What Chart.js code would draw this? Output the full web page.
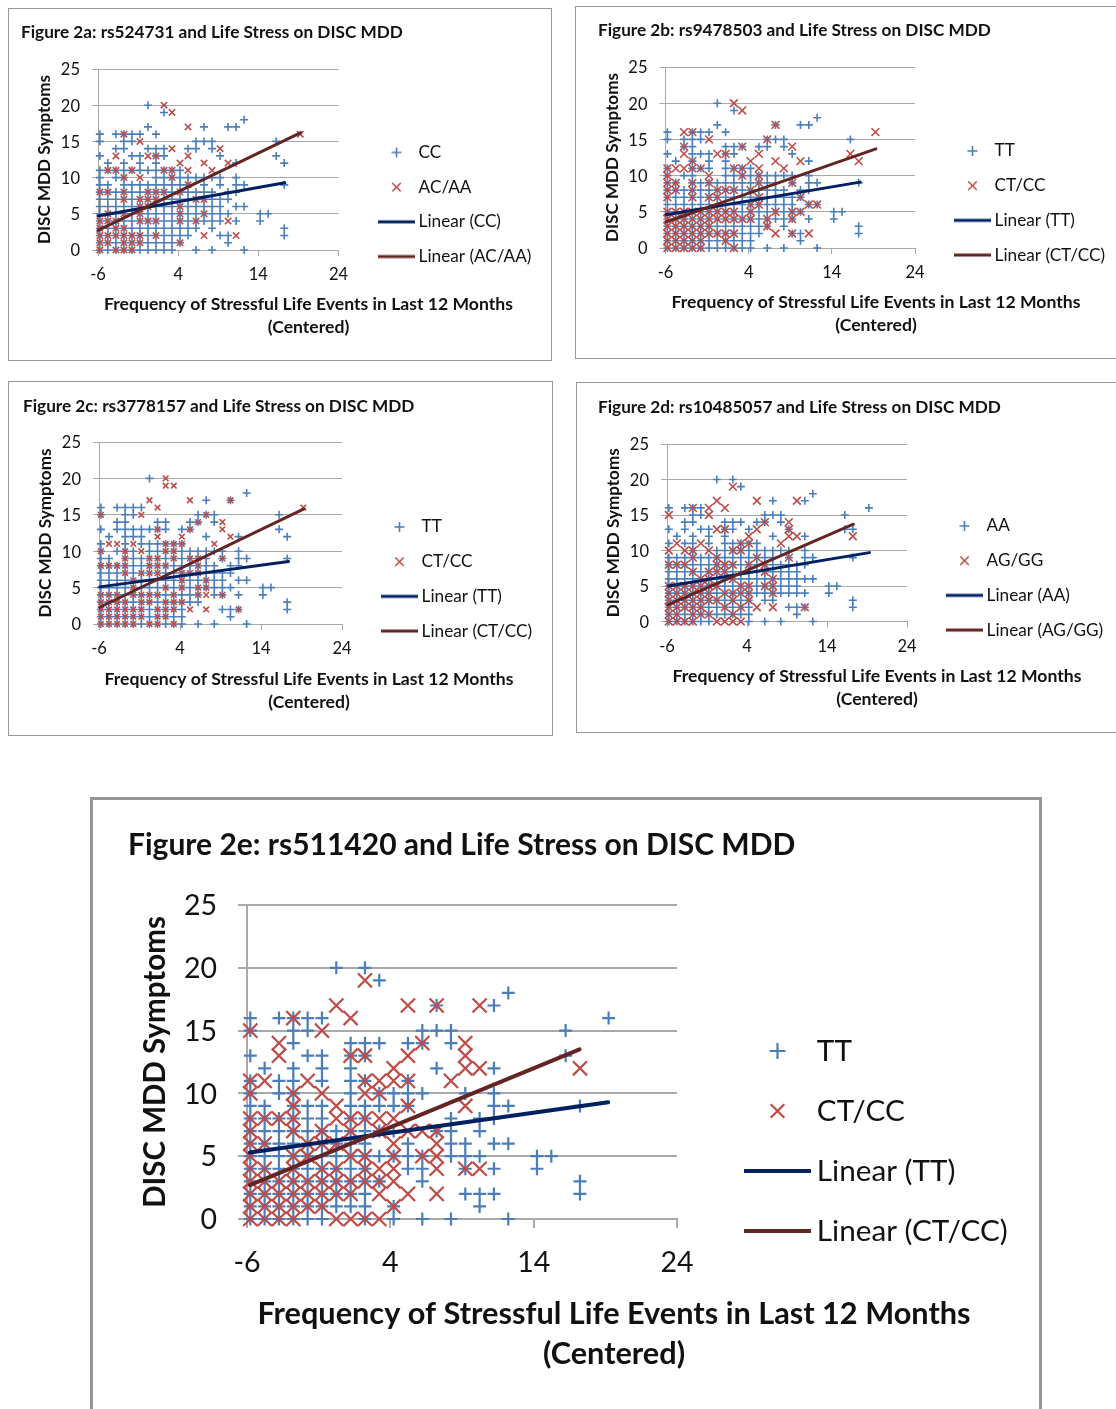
<!DOCTYPE html>
<html><head><meta charset="utf-8">
<script src="https://cdn.jsdelivr.net/npm/chart.js@4"></script>
<style>
html,body{margin:0;padding:0;background:#fff;overflow:hidden;width:1116px;height:1409px}
#page{position:relative;width:1116px;height:1409px;overflow:hidden}
.frame{position:absolute;box-sizing:border-box;border-style:solid;border-color:#969696;background:#fff}
canvas{position:absolute}
</style></head><body><div id="page"></div>
<script>
// x position of each column of the count data (centered event frequency)
const xColumns = [-5.77,-4.77,-3.77,-2.77,-1.77,-0.77,0.23,1.23,2.23,3.23,4.23,5.23,6.23,7.23,8.23,9.23,10.23,11.23,12.23,13.23,14.23,15.23,16.23,17.23,18.23,19.23];
const xTickValues = [-6,4,14,24];
const yTickValues = [0,5,10,15,20,25];
const xAxisTitle = ["Frequency of Stressful Life Events in Last 12 Months","(Centered)"];
const yAxisTitle = "DISC MDD Symptoms";

// Each series: one list of y values per entry of xColumns
const a_CC = [[16,15,13,11,10,9,8,7,6,5,4,3,2,1,0],[12,11,9,8,7,6,5,4,3,2,1,0],[16,14,11,10,8,7,6,5,4,3,2,1,0],[16,15,14,12,11,10,9,8,7,6,5,4,3,2,1,0],[16,15,13,11,9,8,7,6,5,4,3,2,1,0],[16,13,12,11,9,8,7,6,5,4,3,2,1,0],[20,17,14,11,9,8,7,6,5,4,3,2,1,0],[16,14,13,12,11,10,9,8,7,6,5,4,3,2,1,0],[19,14,13,11,10,9,8,7,6,5,4,3,2,1,0],[11,10,9,8,7,6,5,4,3,2,1,0],[11,10,9,8,7,6,5,4,3,2,1],[14,10,9,8,7,6,5,4,3,2],[15,14,10,8,7,6,5,4,3,0],[17,15,10,9,8,7,6,5,4],[15,14,10,8,7,6,5,4,3,0],[13,10,9,7,6,5,4,2],[17,8,7,5,2,1],[17,12,10,9,8,6,4],[18,9,6,0],[],[5,4],[5],[15,13],[12,9,3,2],[],[]];
const a_ACAA = [[8,4,3,2,1,0],[11,8,5,4,2,1],[13,11,4,3,2,0],[16,10,8,7,5,3,2,1,0],[11,2,1,0],[15,10,7,6,5,4,2,1],[13,8,7,6,4],[13,8,7,4,2],[20,11,8],[19,14,11,10],[12,8,6,5,4,1],[17,13,11,9],[7,4],[12,7,5,2],[11],[14],[12,4],[2],[],[],[],[],[],[],[],[16]];
const a_lineCC = [[-6,4.7],[17.3,9.3]];
const a_lineACAA = [[-6,2.7],[19.3,16.2]];

const b_TT = [[16,15,13,11,10,9,8,7,6,5,4,3,2,1,0],[12,9,8,7,6,5,4,3,2,1,0],[15,14,10,8,7,6,5,4,3,2,1,0],[16,15,14,13,12,11,10,9,8,7,6,5,4,3,2,1,0],[16,15,13,11,9,8,7,6,5,4,3,2,1,0],[16,13,12,11,9,8,7,6,5,4,3,2,1,0],[20,17,9,8,7,6,5,4,3,2,1,0],[16,14,13,12,11,10,9,8,7,6,5,4,3,2,1,0],[19,14,13,11,10,9,8,7,6,5,4,3,2,1,0],[14,11,10,9,8,7,6,5,4,3,2,1,0],[11,10,9,8,7,6,5,4,3,2,1,0],[14,10,9,8,7,6,5,4,3,2],[15,14,10,9,8,7,6,5,4,3,0],[17,15,10,9,8,7,6,5,4],[15,14,10,8,7,6,5,4,3,0],[13,10,9,7,6,5,4,2],[17,8,7,5,2,1],[17,12,10,9,8,6,4],[18,9,6,0],[],[5,4],[5],[15],[9,3,2],[],[]];
const b_CTCC = [[11,10,9,8,7,5,4,3,2,1,0],[11,9,8,5,4,3,2,1,0],[16,14,13,11,5,4,3,2,1,0],[16,12,11,9,8,7,5,4,3,2,1,0],[11,5,4,3,2,1,0],[15,10,9,7,5,4,3,2],[13,8,7,5,4,2],[13,8,5,4,2,1],[20,11,8,5,4,2,0],[19,14,11,10,4],[12,8,6,5,4],[13,11,10,9,7,6],[15,4,3],[17,12,5,2],[11],[14,9,5,4,2],[12,7,5],[6,2],[6],[],[],[],[13],[12],[],[16]];
const b_lineTT = [[-5.9,4.6],[17.4,9.1]];
const b_lineCTCC = [[-5.9,3.6],[19.3,13.7]];

const c_TT = [[16,15,13,11,10,9,8,7,6,5,4,3,2,1,0],[12,9,8,7,6,5,4,3,2,1,0],[16,14,13,10,8,7,6,5,4,3,2,1,0],[16,15,14,13,12,11,10,9,8,7,6,5,4,3,2,1,0],[16,15,13,12,10,9,8,7,6,5,4,3,2,1,0],[16,13,12,11,9,8,7,6,5,4,3,2,1,0],[20,13,11,10,9,8,7,6,5,4,3,2,1,0],[14,13,11,10,9,8,7,6,5,4,3,2,1,0],[14,13,11,10,9,8,7,6,5,4,3,2,1,0],[11,10,9,8,7,6,5,4,3,2,1,0],[13,11,10,9,8,7,6,5,4,3,2,1,0],[14,13,10,9,8,7,6,5,4,3],[15,14,10,9,8,7,6,5,4,3,0],[17,15,12,10,9,8,7,6,5],[15,14,10,8,7,6,5,4,0],[10,9,7,6,5,4,2],[17,8,7,5,2,1],[12,10,9,8,6,4,2],[18,9,6,0],[],[5,4],[5],[15,13],[12,9,3,2],[],[]];
const c_CTCC = [[15,10,8,4,3,2,1,0],[11,8,4,3,2,1,0],[11,8,4,3,2,1,0],[10,9,8,7,3,2,1,0],[11,6,5,4,2,1,0],[15,10,7,4,3,2,1],[17,9,8,7,4,3,0],[16,13,12,9,8,7,4,2,1,0],[20,19,11,10,8,5,3,2,1],[19,11,10,9,4,3,2,0],[12,11,7,6,5,3],[17,13,9,7,2],[14,9,8,7,5,4],[15,6,5,4,2],[11],[14,13,9,4],[17,12],[2],[],[],[],[],[],[],[],[16]];
const c_lineTT = [[-5.9,5.1],[17.4,8.6]];
const c_lineCTCC = [[-5.9,2.3],[19.3,15.8]];

const d_AA = [[16,13,11,9,8,7,6,5,4,3,2,1,0],[12,9,8,7,6,5,4,3,2,1,0],[16,14,13,11,9,8,7,6,5,4,3,2,1,0],[16,15,14,12,11,10,9,8,7,6,5,4,3,2,1,0],[16,15,13,9,8,7,6,5,4,3,2,1,0],[13,12,11,9,8,7,6,5,4,3,2,1,0],[20,10,9,8,7,6,5,4,3,2,1],[14,13,12,11,10,9,8,7,6,5,4,3,2,1],[20,14,13,11,10,9,8,7,6,5,4,3,2,1],[19,14,11,10,9,8,7,6,5,4,3,2,1],[13,11,10,9,8,7,6,5,4,3,2,1,0],[14,11,10,9,8,7,6,5,4],[15,14,10,9,8,7,6,5,4,3,0],[17,15,12,10,9,8,7,6,5,4,3],[15,14,10,8,7,6,5,4,0],[13,10,9,8,7,6,5,4,2],[8,7,6,5,4,2,1],[17,12,10,9,8,6,4,2],[18,9,6,0],[],[5,4],[5],[15,13],[13,9,3,2],[],[16]];
const d_AGGG = [[15,10,8,5,4,3,2,1,0],[11,8,5,4,3,2,1,0],[10,8,5,4,3,2,0],[16,10,9,7,5,4,3,2,1,0],[11,6,5,4,3,2,1],[16,15,10,7,6,5,4,3,1],[17,13,9,8,7,5,3,0],[16,13,8,7,4,2,0],[19,10,8,6,4,3,1,0],[11,10,5,4,2,0],[12,11,8,5,4,3],[17,13,9,2],[14,8,7,5],[6,5,4,2],[11],[14,13,12,9],[17,12],[2],[],[],[],[],[],[12],[],[]];
const d_lineAA = [[-5.8,5],[19.3,9.7]];
const d_lineAGGG = [[-5.9,2.35],[17.3,13.7]];

const e_TT = [[16,15,13,11,10,9,8,7,6,5,4,3,2,1,0],[12,9,8,7,6,5,4,3,2,1,0],[16,11,10,8,7,6,5,4,3,2,1,0],[16,15,14,12,11,10,9,8,7,6,5,4,3,2,1,0],[16,15,13,9,8,7,6,5,4,3,2,1,0],[16,13,12,11,9,8,7,6,5,4,3,2,1,0],[20,7,6,5,4,3,2,1],[14,13,12,11,10,9,8,7,6,5,4,3,2,1],[20,14,13,11,9,8,7,6,5,4,3,2,1,0],[19,14,10,9,7,5,3],[10,9,7,5,1,0],[14,11,10,9,6,5,4],[15,14,10,5,4,3,0],[17,15,12,7],[15,14,8,7,6,5,0],[10,6,5,4,2],[8,7,5,2,1],[17,12,10,9,8,6,4,2],[18,9,6,0],[],[5,4],[5],[15,13],[9,3,2],[],[16]];
const e_CTCC = [[15,11,10,8,7,6,5,4,3,2,1,0],[11,8,6,4,3,2,1,0],[14,13,8,3,2,1,0],[16,10,9,8,7,5,4,3,2,1,0],[11,6,5,3,2,1],[15,10,7,6,4,3,2,1],[17,9,8,6,4,3,2,0],[16,13,8,7,5,3,2,0],[19,13,11,10,8,5,4,3,0],[11,10,8,7,4,3,2,0],[12,11,8,6,5,4,3,1],[17,13,11,9,7,2],[14,7,5],[17,7,6,5,4,2],[11],[14,13,12,9,4],[17,12,4],[],[],[],[],[],[],[12],[],[]];
const e_lineTT = [[-5.8,5.3],[19.2,9.3]];
const e_lineCTCC = [[-5.8,2.7],[17.2,13.5]];

const SMALL = {title:17.2, xTitle:17.6, yTitle:17.1, tick:16.5, legend:17.2, xLine:23, legendGap:17.5, boxW:32, lineW:37, legendArm:5, blueR:4, gridW:1, tickLen:6, yPad:12, xPad:9, labelY:1, pointW:1.6, trendW:3, frameW:1.5};
const LARGE = {title:30, xTitle:30.7, yTitle:29.5, tick:28.5, legend:29.7, xLine:40, legendGap:30.3, boxW:58, lineW:67, legendArm:8, blueR:6.5, gridW:2, tickLen:9, yPad:21, xPad:18, labelY:1, pointW:2.2, trendW:4, frameW:3};

const panels = [
 {title:"Figure 2a: rs524731 and Life Stress on DISC MDD", names:["CC","AC/AA","Linear (CC)","Linear (AC/AA)"], blue:a_CC, red:a_ACAA, lineB:a_lineCC, lineR:a_lineACAA,
  frame:[8,8,544,353], titleX:21, titleY:32.5, plot:[98,338.5,69,250], legendX:378, legendY:204.5, xTitleX:308.5, xTitleY:304, yTitleX:44, redR:4.5, s:SMALL},
 {title:"Figure 2b: rs9478503 and Life Stress on DISC MDD", names:["TT","CT/CC","Linear (TT)","Linear (CT/CC)"], blue:b_TT, red:b_CTCC, lineB:b_lineTT, lineR:b_lineCTCC,
  frame:[575,6,600,353], titleX:599, titleY:30.5, plot:[665.5,915,67,248], legendX:954, legendY:203, xTitleX:876, xTitleY:302, yTitleX:612, redR:5.5, s:SMALL},
 {title:"Figure 2c: rs3778157 and Life Stress on DISC MDD", names:["TT","CT/CC","Linear (TT)","Linear (CT/CC)"], blue:c_TT, red:c_CTCC, lineB:c_lineTT, lineR:c_lineCTCC,
  frame:[8,381,545,355], titleX:23, titleY:406.5, plot:[99,342,442,624], legendX:381, legendY:579, xTitleX:309, xTitleY:679, yTitleX:45, redR:4, s:SMALL},
 {title:"Figure 2d: rs10485057 and Life Stress on DISC MDD", names:["AA","AG/GG","Linear (AA)","Linear (AG/GG)"], blue:d_AA, red:d_AGGG, lineB:d_lineAA, lineR:d_lineAGGG,
  frame:[576,382,600,351], titleX:598, titleY:407.5, plot:[667,907,444,621.5], legendX:946, legendY:578, xTitleX:877, xTitleY:676, yTitleX:613, redR:5.5, s:SMALL},
 {title:"Figure 2e: rs511420 and Life Stress on DISC MDD", names:["TT","CT/CC","Linear (TT)","Linear (CT/CC)"], blue:e_TT, red:e_CTCC, lineB:e_lineTT, lineR:e_lineCTCC,
  frame:[90,797,952,700], titleX:128, titleY:845, plot:[247,677,905,1219], legendX:744, legendY:1141, xTitleX:614, xTitleY:1314, yTitleX:155, redR:10, s:LARGE}
];

const FONT = "Lato, Carlito, Calibri, sans-serif";
const BLUE = "#4a7ebb", RED = "#be4b48", NAVY = "#002060", MAROON = "#632523", GRID = "#a9a9a9", INK = "#111111";
const toPoints = cols => cols.flatMap((ys,i) => ys.map(y => ({x:xColumns[i], y})));
const toLine = pts => pts.map(([x,y]) => ({x,y}));

// Legend key: a small canvas image; its content sits to the right so that it starts where the key box starts
function legendKey(kind, color, s){
  const over = s.lineW - s.boxW, c = document.createElement("canvas");
  c.width = s.boxW + 2*over; c.height = Math.ceil(s.legendArm*2 + 6);
  const g = c.getContext("2d"), cx = over + s.lineW/2, cy = c.height/2, a = s.legendArm;
  g.strokeStyle = color; g.beginPath();
  if(kind === "line"){ g.lineWidth = s.trendW; g.moveTo(over,cy); g.lineTo(over+s.lineW,cy); }
  if(kind === "cross"){ g.lineWidth = s.pointW; g.moveTo(cx-a,cy); g.lineTo(cx+a,cy); g.moveTo(cx,cy-a); g.lineTo(cx,cy+a); }
  if(kind === "x"){ const d = a*0.85; g.lineWidth = s.pointW; g.moveTo(cx-d,cy-d); g.lineTo(cx+d,cy+d); g.moveTo(cx-d,cy+d); g.lineTo(cx+d,cy-d); }
  g.stroke();
  return c;
}

const page = document.getElementById("page");
panels.forEach(p => {
  const s = p.s, [fx,fy,fw,fh] = p.frame, [pl,pr,pt,pb] = p.plot;
  const frame = document.createElement("div");
  frame.className = "frame";
  frame.style.cssText = `left:${fx}px;top:${fy}px;width:${fw}px;height:${fh}px;border-width:${s.frameW}px`;
  page.appendChild(frame);
  const cl = p.yTitleX < p.titleX ? p.titleX : Math.min(p.titleX, p.yTitleX-14), ct = fy;
  const cw = Math.min(1116, fx+fw) - cl - 1, ch = Math.min(1409, fy+fh) - ct - 1;
  const cv = document.createElement("canvas");
  cv.width = cw; cv.height = ch;
  cv.style.cssText = `left:${cl}px;top:${ct}px;width:${cw}px;height:${ch}px`;
  page.appendChild(cv);

  const tLH = s.title*1.2, axLH = s.yTitle*1.2;
  const keys = [legendKey("cross",BLUE,s), legendKey("x",RED,s), legendKey("line",NAVY,s), legendKey("line",MAROON,s)];
  const geometry = {
    id:"panelGeometry",
    beforeLayout(chart){
      const lg = chart.legend;
      if(!lg._wrapped){ const f = lg.fit; lg.fit = function(){ f.call(this); this.width = cw-(pr-cl); }; lg._wrapped = true; }
    },
    afterLayout(chart){
      const lg = chart.legend, x = chart.scales.x;
      lg.left = p.legendX - cl - s.legendGap; lg.right = cw;
      lg.top = p.legendY - ct - 300; lg.bottom = p.legendY - ct + 300;
      if(!x._wrapped){
        const d = x.drawTitle;
        x.drawTitle = function(){ const l=this.left, r=this.right; this.left = p.xTitleX-cl-600; this.right = p.xTitleX-cl+600; d.call(this); this.left=l; this.right=r; };
        x._wrapped = true;
      }
    }
  };
  new Chart(cv, {
    type:"scatter",
    data:{datasets:[
      {label:p.names[0], data:toPoints(p.blue), pointStyle:"cross", pointRadius:s.blueR, pointBorderColor:BLUE, pointBackgroundColor:BLUE, pointBorderWidth:s.pointW, borderColor:BLUE, backgroundColor:BLUE, order:4, clip:false},
      {label:p.names[1], data:toPoints(p.red), pointStyle:"crossRot", pointRadius:p.redR, pointBorderColor:RED, pointBackgroundColor:RED, pointBorderWidth:s.pointW, borderColor:RED, backgroundColor:RED, order:3, clip:false},
      {label:p.names[2], data:toLine(p.lineB), showLine:true, pointStyle:"line", pointRadius:0, pointBorderColor:NAVY, pointBorderWidth:s.trendW, borderColor:NAVY, borderWidth:s.trendW, borderCapStyle:"round", order:2, clip:false},
      {label:p.names[3], data:toLine(p.lineR), showLine:true, pointStyle:"line", pointRadius:0, pointBorderColor:MAROON, pointBorderWidth:s.trendW, borderColor:MAROON, borderWidth:s.trendW, borderCapStyle:"round", order:1, clip:false}
    ]},
    options:{
      responsive:false, animation:false, devicePixelRatio:1,
      layout:{padding:0, autoPadding:false},
      plugins:{
        tooltip:{enabled:false},
        title:{display:true, text:p.title, align:"start", color:INK, font:{family:FONT, size:s.title, weight:"bold", lineHeight:1.2},
               padding:{top:p.titleY-ct-tLH/2, bottom:pt-p.titleY-tLH/2}},
        legend:{display:true, position:"right", align:"center",
          labels:{usePointStyle:true, pointStyleWidth:s.boxW, boxHeight:10, padding:s.legendGap, color:INK,
                  font:{family:FONT, size:s.legend}, sort:(a,b)=>a.datasetIndex-b.datasetIndex,
                  generateLabels:chart=>Chart.defaults.plugins.legend.labels.generateLabels(chart).map(it=>({...it, pointStyle:keys[it.datasetIndex]}))}}
      },
      scales:{
        x:{type:"linear", min:-6, max:24, afterBuildTicks:sc=>{sc.ticks = xTickValues.map(value=>({value}));},
           afterFit:sc=>{sc.height = ct+ch-pb;},
           grid:{drawOnChartArea:false, drawTicks:true, tickLength:s.tickLen, color:GRID, lineWidth:s.gridW},
           border:{display:true, color:GRID, width:s.gridW},
           ticks:{color:INK, font:{family:FONT, size:s.tick}, padding:s.xPad, maxRotation:0, autoSkip:false},
           title:{display:true, text:xAxisTitle, color:INK, font:{family:FONT, size:s.xTitle, weight:"bold", lineHeight:s.xLine/s.xTitle},
                  padding:{top:0, bottom:ct+ch-p.xTitleY-1.5*s.xLine}}},
        y:{type:"linear", min:0, max:25, afterBuildTicks:sc=>{sc.ticks = yTickValues.map(value=>({value}));},
           afterFit:sc=>{sc.width = pl-cl;},
           grid:{drawTicks:true, tickLength:s.tickLen, color:GRID, lineWidth:s.gridW},
           border:{display:true, color:GRID, width:s.gridW},
           ticks:{color:INK, font:{family:FONT, size:s.tick}, padding:s.yPad, labelOffset:s.labelY, autoSkip:false},
           title:{display:true, text:yAxisTitle, color:INK, font:{family:FONT, size:s.yTitle, weight:"bold", lineHeight:1.2},
                  padding:{top:p.yTitleX-cl-axLH/2, bottom:0}}}
      }
    },
    plugins:[geometry]
  });
});
</script></body></html>
